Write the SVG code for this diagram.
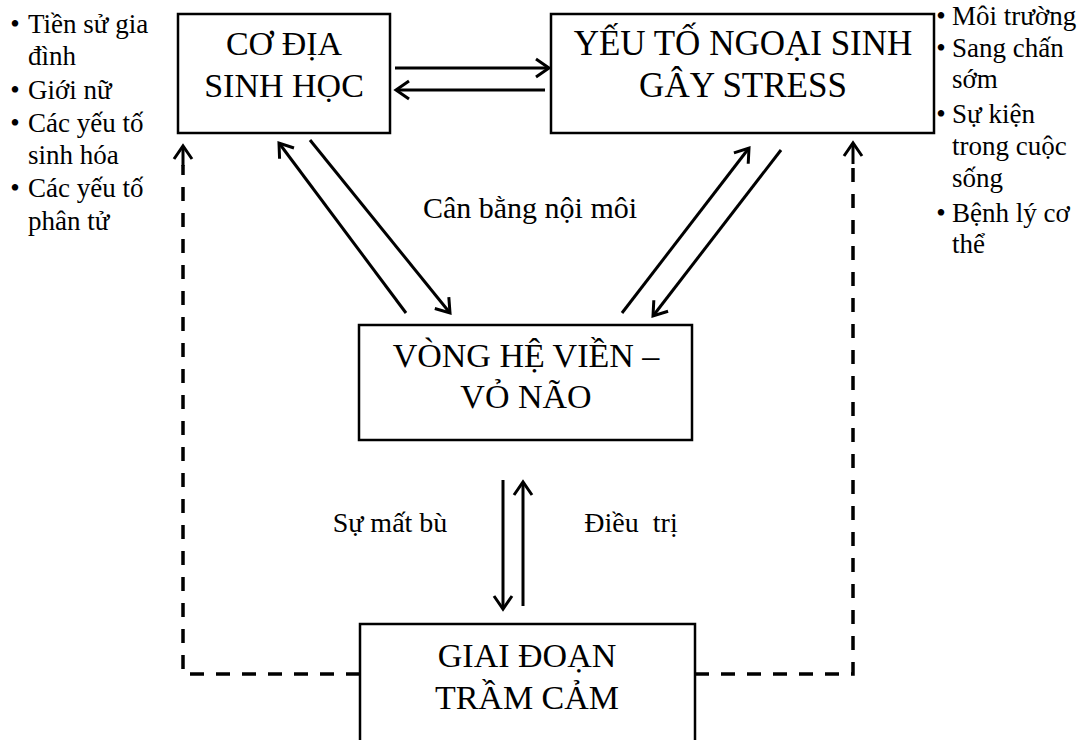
<svg xmlns="http://www.w3.org/2000/svg" width="1088" height="740" viewBox="0 0 1088 740">
<style>
.box{fill:#fff;stroke:#000;stroke-width:2.5}
.bt{font-family:"Liberation Serif","Times New Roman",serif;font-size:34px;fill:#000;text-anchor:middle}
.lb{font-family:"Liberation Serif","Times New Roman",serif;font-size:27px;fill:#000}
.bu{font-family:"Liberation Serif","Times New Roman",serif;font-size:27px;fill:#000;text-anchor:middle}
.ar{fill:none;stroke:#000;stroke-width:3;marker-end:url(#arr)}
.da{fill:none;stroke:#000;stroke-width:3.5;stroke-dasharray:14 12}
</style>
<defs>
<marker id="arr" viewBox="-16 -12 20 24" refX="0" refY="0" markerWidth="20" markerHeight="24" markerUnits="userSpaceOnUse" orient="auto" overflow="visible">
<path d="M-13,-9 L0,0 L-13,9" fill="none" stroke="#000" stroke-width="3"/>
</marker>
</defs>
<rect width="1088" height="740" fill="#fff"/>

<g id="connectors">
<line class="ar" x1="395" y1="68" x2="549" y2="68"/>
<line class="ar" x1="545" y1="90" x2="396" y2="90"/>
<line class="ar" x1="406" y1="313" x2="279" y2="143"/>
<line class="ar" x1="310" y1="140" x2="450" y2="313"/>
<line class="ar" x1="622" y1="313" x2="749" y2="148"/>
<line class="ar" x1="781" y1="150" x2="653" y2="316"/>
<line class="ar" x1="503" y1="480" x2="503" y2="609"/>
<line class="ar" x1="523" y1="606" x2="523" y2="482"/>
<polyline class="da" points="360,674 183,674 183,165"/>
<line class="ar" x1="183" y1="166" x2="183" y2="146"/>
<polyline class="da" points="695,674 853,674 853,163"/>
<line class="ar" x1="853" y1="164" x2="853" y2="143"/>
</g>

<g id="co-dia">
<rect class="box" x="178" y="14" width="212" height="119"/>
<text class="bt" x="284" y="55">CƠ ĐỊA</text>
<text class="bt" x="284" y="97">SINH HỌC</text>
</g>

<g id="yeu-to">
<rect class="box" x="551" y="14" width="383" height="119"/>
<text class="bt" x="743" y="55" style="font-size:35px">YẾU TỐ NGOẠI SINH</text>
<text class="bt" x="743" y="97" style="font-size:35px">GÂY STRESS</text>
</g>

<g id="vong-he">
<rect class="box" x="359" y="325" width="333" height="115"/>
<text class="bt" x="526" y="367">VÒNG HỆ VIỀN –</text>
<text class="bt" x="526" y="408">VỎ NÃO</text>
</g>

<g id="giai-doan">
<rect class="box" x="360" y="624" width="335" height="130"/>
<text class="bt" x="527" y="667">GIAI ĐOẠN</text>
<text class="bt" x="527" y="709">TRẦM CẢM</text>
</g>

<g id="labels">
<text class="lb" x="530" y="218" text-anchor="middle" style="font-size:30px">Cân bằng nội môi</text>
<text class="lb" x="390" y="532" text-anchor="middle" style="font-size:28px">Sự mất bù</text>
<text class="lb" x="631" y="532" text-anchor="middle" style="font-size:28px" xml:space="preserve">Điều  trị</text>
</g>

<g id="left-list">
<text class="bu" x="15" y="33">•</text><text class="lb" x="28" y="33">Tiền sử gia</text>
<text class="lb" x="28" y="65">đình</text>
<text class="bu" x="15" y="99">•</text><text class="lb" x="28" y="99">Giới nữ</text>
<text class="bu" x="15" y="132">•</text><text class="lb" x="28" y="132">Các yếu tố</text>
<text class="lb" x="28" y="164">sinh hóa</text>
<text class="bu" x="15" y="197">•</text><text class="lb" x="28" y="197">Các yếu tố</text>
<text class="lb" x="28" y="230">phân tử</text>
</g>

<g id="right-list">
<text class="bu" x="941" y="25">•</text><text class="lb" x="952" y="25">Môi trường</text>
<text class="bu" x="941" y="57">•</text><text class="lb" x="952" y="57">Sang chấn</text>
<text class="lb" x="952" y="88">sớm</text>
<text class="bu" x="941" y="123">•</text><text class="lb" x="952" y="123">Sự kiện</text>
<text class="lb" x="952" y="155">trong cuộc</text>
<text class="lb" x="952" y="187">sống</text>
<text class="bu" x="941" y="222">•</text><text class="lb" x="952" y="222">Bệnh lý cơ</text>
<text class="lb" x="952" y="253">thể</text>
</g>
</svg>
